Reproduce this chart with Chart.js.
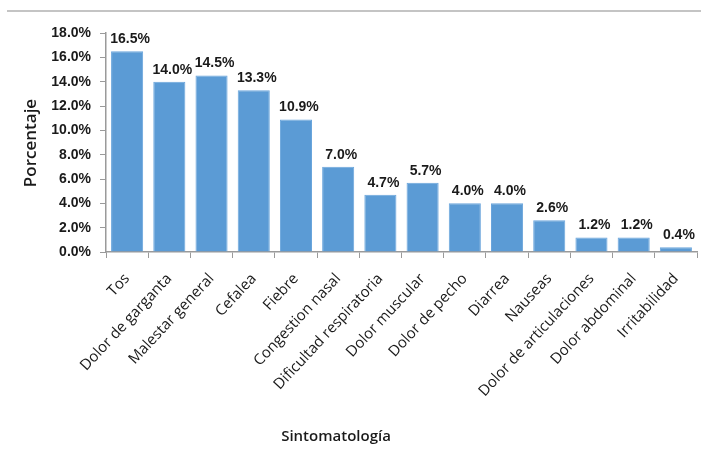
<!DOCTYPE html>
<html>
<head>
<meta charset="utf-8">
<script src="https://cdn.jsdelivr.net/npm/chart.js@4"></script>
<style>
  html, body { margin: 0; padding: 0; background: #fff; }
  #wrap { width: 707px; height: 470px; }
</style>
</head>
<body>
<div id="wrap"><canvas id="barChart" width="707" height="470"></canvas></div>
<script>
// Sintomatologia (%)
const categories = ['Tos', 'Dolor de garganta', 'Malestar general', 'Cefalea', 'Fiebre', 'Congestion nasal',
    'Dificultad respiratoria', 'Dolor muscular', 'Dolor de pecho', 'Diarrea', 'Nauseas',
    'Dolor de articulaciones', 'Dolor abdominal', 'Irritabilidad'];
const values = [16.5, 14.0, 14.5, 13.3, 10.9, 7.0, 4.7, 5.7, 4.0, 4.0, 2.6, 1.2, 1.2, 0.4];
const yTicks = [0, 2, 4, 6, 8, 10, 12, 14, 16, 18];
const xTitle = 'Sintomatología';
const yTitle = 'Porcentaje';

const textColor = '#1a1a1a';

// value labels, axis titles and the thin frame line at the top
const extras = {
    id: 'extras',
    afterDatasetsDraw(chart) {
        const ctx = chart.ctx;
        ctx.save();
        ctx.fillStyle = textColor;
        ctx.font = 'bold 14px "Liberation Sans", Arial, sans-serif';
        ctx.textAlign = 'center';
        ctx.textBaseline = 'bottom';
        chart.getDatasetMeta(0).data.forEach((bar, i) => {
            ctx.fillText(values[i].toFixed(1) + '%', bar.x + 3, bar.y - 5);
        });

        ctx.font = '600 15px "Open Sans", sans-serif';
        ctx.textBaseline = 'middle';
        ctx.fillText(xTitle, 336, 437);

        ctx.font = '600 17px "Open Sans", sans-serif';
        ctx.translate(31, 143);
        ctx.rotate(-Math.PI / 2);
        ctx.fillText(yTitle, 0, 0);
        ctx.restore();

        ctx.save();
        ctx.strokeStyle = '#c4c4c4';
        ctx.lineWidth = 2;
        ctx.beginPath();
        ctx.moveTo(7, 11);
        ctx.lineTo(701, 11);
        ctx.stroke();
        ctx.restore();
    },
};

new Chart('barChart', {
    type: 'bar',
    data: {
        labels: categories,
        datasets: [
            {
                data: values,
                backgroundColor: '#5b9bd5',
                borderColor: '#6aa5dc',
                borderWidth: 1,
                barPercentage: 0.76,
                categoryPercentage: 1,
            },
        ],
    },
    options: {
        responsive: false,
        animation: false,
        layout: { padding: { left: 0, right: 10, top: 33, bottom: 18 } },
        plugins: {
            legend: { display: false },
            tooltip: { enabled: false },
        },
        scales: {
            x: {
                afterFit: (s) => { s.height = 200; },
                grid: { offset: true, drawOnChartArea: false, tickLength: 6, color: '#9a9a9a' },
                border: { color: '#9a9a9a', width: 1.5 },
                ticks: {
                    autoSkip: false,
                    minRotation: 47,
                    maxRotation: 47,
                    padding: 12,
                    color: textColor,
                    font: { family: '"Open Sans", sans-serif', size: 15 },
                },
            },
            y: {
                min: 0,
                max: 18,
                afterFit: (s) => { s.width = 106; },
                afterBuildTicks: (s) => { s.ticks = yTicks.map((v) => ({ value: v })); },
                grid: { drawOnChartArea: false, tickLength: 6, color: '#9a9a9a' },
                border: { color: '#9a9a9a', width: 1.5 },
                ticks: {
                    padding: 9,
                    color: textColor,
                    font: { family: '"Liberation Sans", Arial, sans-serif', size: 14, weight: 'bold' },
                    callback: (v) => v.toFixed(1) + '%',
                },
            },
        },
    },
    plugins: [extras],
});
</script>
</body>
</html>
